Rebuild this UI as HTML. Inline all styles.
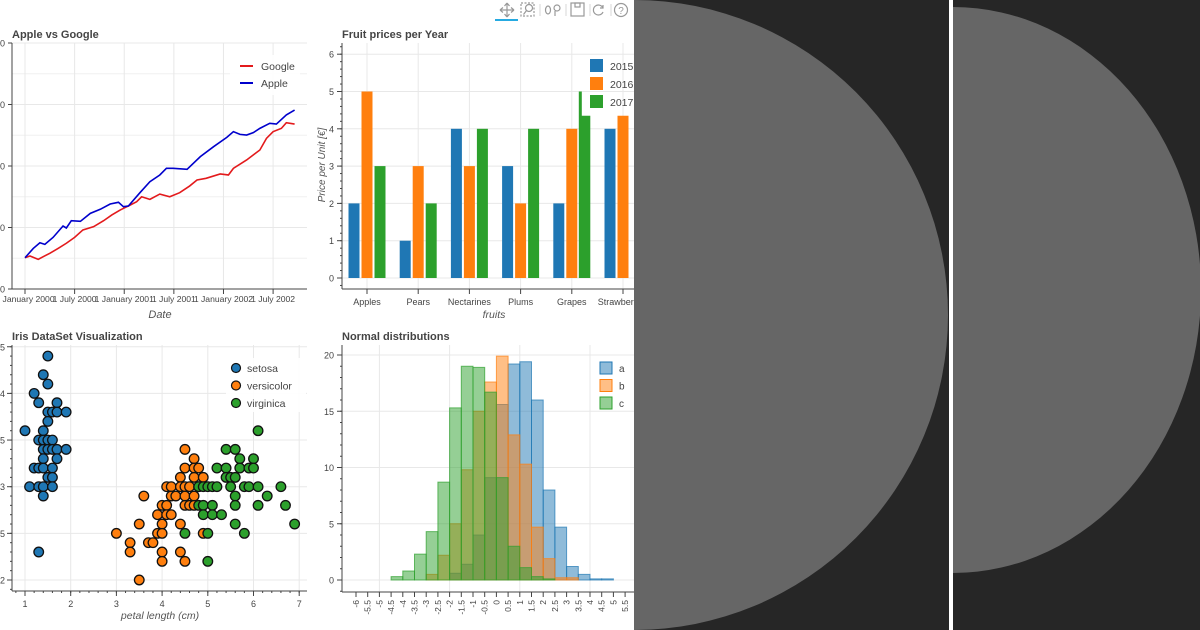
<!DOCTYPE html>
<html><head><meta charset="utf-8">
<style>
html,body{margin:0;padding:0;width:1200px;height:630px;overflow:hidden;background:#fff;font-family:"Liberation Sans",sans-serif;}
#root{position:absolute;left:0;top:0;width:1200px;height:630px;}
</style></head>
<body>
<svg id="root" width="1200" height="630" viewBox="0 0 1200 630" xmlns="http://www.w3.org/2000/svg">
<rect x="0" y="0" width="634" height="630" fill="#fff"/>
<g id="toolbar" stroke="#999" fill="none" stroke-width="1.2">
  <g><path d="M500 10h14M507 3v14M500 10l3-2.5M500 10l3 2.5M514 10l-3-2.5M514 10l-3 2.5M507 3l-2.5 3M507 3l2.5 3M507 17l-2.5-3M507 17l2.5-3"/></g>
  <line x1="495" y1="20" x2="518" y2="20" stroke="#26aae1" stroke-width="2"/>
  <g><rect x="521" y="3" width="13" height="13" stroke-dasharray="2 1.5"/><circle cx="529" cy="8" r="3.5"/><path d="M526.5 10.5l-3 4"/></g>
  <g><ellipse cx="548" cy="10" rx="2.5" ry="4"/><circle cx="557" cy="8" r="3"/><path d="M555 11v5"/></g>
  <g><rect x="571" y="3" width="13" height="13"/><rect x="575" y="3" width="5" height="4"/></g>
  <g><path d="M603 8a5 5 0 1 0 0 4M603 5v3h-3"/></g>
  <g><circle cx="621" cy="10" r="6.5"/><text x="621" y="14" font-size="10" text-anchor="middle" fill="#999" stroke="none">?</text></g>
  <g stroke="#ddd"><line x1="540" y1="4" x2="540" y2="16"/><line x1="566" y1="4" x2="566" y2="16"/><line x1="590" y1="4" x2="590" y2="16"/><line x1="611" y1="4" x2="611" y2="16"/></g>
</g>
<g id="p1"></g>
<g id="p2"></g>
<g id="p3"></g>
<g id="p4"></g>
<g>
  <rect x="634" y="0" width="315" height="630" fill="#262626"/>
  <path d="M634 0 A314 315 0 0 1 634 630 Z" fill="#666"/>
</g>
<rect x="949" y="0" width="4" height="630" fill="#fff"/>
<g>
  <rect x="953" y="0" width="247" height="630" fill="#262626"/>
  <path d="M953 7 A248 283 0 0 1 953 573 Z" fill="#666"/>
</g>
</svg>
<script>
// ---------- Chart 1 data ----------
const appleMonths=[0,1.0,1.8,2.4,3.4,4.6,5.0,5.6,6.7,7.9,9.1,10.3,11.3,11.9,12.5,13.9,15.1,16.3,17.1,17.9,19.6,21.2,22.8,24.4,25.2,26.0,26.8,27.6,28.4,29.6,30.4,31.6,32.6];
const appleValues=[25.4,33,37.6,36.3,42,51.2,49.6,55.5,55,61.5,64.8,69.1,70.5,66.9,67.5,78.3,87.2,92.7,98.1,98.1,97.3,107.6,115.7,123.3,127.9,125.7,125.2,127.1,130.6,134.7,134.1,141.5,145.5];
const googleMonths=[0,0.6,1.6,2.2,3.0,4.0,5.0,6.0,7.0,8.3,9.5,10.5,11.5,12.5,13.5,14.1,15.1,16.3,17.5,18.7,19.9,20.8,21.9,23.6,24.6,25.2,26.8,28.4,29.2,30.0,31.0,31.6,32.6];
const googleValues=[25.4,26.8,24.1,26.3,29,33,37.2,42,48,50.7,55.5,60.2,64.2,67.5,71,75,72.9,77.2,75,78.3,83.7,88.6,90,93.5,92.7,98.1,104.9,113,122.5,127.9,130.6,135.2,134.1];
const dateTicks=[0,6,12,18,24,30];
const dateLabels=["1 January 2000","1 July 2000","1 January 2001","1 July 2001","1 January 2002","1 July 2002"];
const priceTicks=[0,50,100,150,200];
// ---------- Chart 2 data ----------
const fruits=["Apples","Pears","Nectarines","Plums","Grapes","Strawberries"];
const years=["2015","2016","2017"];
const prices2015=[2,1,4,3,2,4];
const prices2016=[5,3,3,2,4,4.35];
const prices2017=[3,2,4,4,4.35,0];
const grapesSliver=[5];
const unitTicks=[0,1,2,3,4,5,6];
// ---------- Chart 3 data ----------
const setosaX=[1.5,1.4,1.5,1.2,1.3,1.7,1.5,1.6,1.7,1.9,1.5,1.0,1.4,1.3,1.4,1.5,1.6,1.4,1.5,1.6,1.7,1.9,1.4,1.7,1.2,1.3,1.4,1.6,1.5,1.6,1.1,1.3,1.4,1.6,1.4,1.3];
const setosaY=[4.4,4.2,4.1,4.0,3.9,3.9,3.8,3.8,3.8,3.8,3.7,3.6,3.6,3.5,3.5,3.5,3.5,3.4,3.4,3.4,3.4,3.4,3.3,3.3,3.2,3.2,3.2,3.2,3.1,3.1,3.0,3.0,3.0,3.0,2.9,2.3];
const versiX=[4.5,4.7,4.5,4.7,4.8,4.4,4.7,4.9,4.1,4.2,4.4,4.5,4.6,4.8,3.6,4.2,4.3,4.5,4.7,4.0,4.1,4.5,4.6,4.7,3.9,4.1,4.2,3.5,4.0,4.4,3.0,3.9,4.0,4.9,3.3,3.7,3.8,3.3,4.0,4.4,4.0,4.5,3.5];
const versiY=[3.4,3.3,3.2,3.2,3.2,3.1,3.1,3.1,3.0,3.0,3.0,3.0,3.0,3.0,2.9,2.9,2.9,2.9,2.9,2.8,2.8,2.8,2.8,2.8,2.7,2.7,2.7,2.6,2.6,2.6,2.5,2.5,2.5,2.5,2.4,2.4,2.4,2.3,2.3,2.3,2.2,2.2,2.0];
const virgX=[6.1,5.4,5.6,5.7,6.0,5.2,5.4,5.7,5.9,6.0,5.4,5.5,5.6,4.8,4.9,5.0,5.1,5.2,5.5,5.8,5.9,6.1,6.6,5.6,6.3,4.8,4.9,5.1,5.6,6.1,6.7,4.9,5.1,5.3,5.6,6.9,4.5,5.0,5.8,5.0];
const virgY=[3.6,3.4,3.4,3.3,3.3,3.2,3.2,3.2,3.2,3.2,3.1,3.1,3.1,3.0,3.0,3.0,3.0,3.0,3.0,3.0,3.0,3.0,3.0,2.9,2.9,2.8,2.8,2.8,2.8,2.8,2.8,2.7,2.7,2.7,2.6,2.6,2.5,2.5,2.5,2.2];
const petalTicks=[1,2,3,4,5,6,7];
const sepalTicks=[2,2.5,3,3.5,4,4.5];
// ---------- Chart 4 data ----------
const binEdges=[-6,-5.5,-5,-4.5,-4,-3.5,-3,-2.5,-2,-1.5,-1,-0.5,0,0.5,1,1.5,2,2.5,3,3.5,4,4.5,5,5.5];
const countsA=[0,0,0,0,0,0,0,0,0.6,1.4,4.0,9.1,15.6,19.2,19.4,16.0,8.0,4.7,1.2,0.5,0.1,0.1,0,0];
const countsB=[0,0,0,0,0,0,0.5,2.2,5.0,9.8,15.0,17.6,19.9,12.9,10.3,4.7,1.9,0.2,0.2,0,0,0,0,0];
const countsC=[0,0,0,0.3,0.8,2.3,4.3,8.7,15.3,19.0,18.9,16.7,9.1,3.0,1.1,0.3,0.1,0,0,0,0,0,0,0];
const histTicksY=[0,5,10,15,20];
const histTickLabelsX=["-6","-5.5","-5","-4.5","-4","-3.5","-3","-2.5","-2","-1.5","-1","-0.5","0","0.5","1","1.5","2","2.5","3","3.5","4","4.5","5","5.5"];

const NS="http://www.w3.org/2000/svg";
function mk(parent,tag,attrs,text){const e=document.createElementNS(NS,tag);for(const k in attrs)e.setAttribute(k,attrs[k]);if(text!==undefined)e.textContent=text;parent.appendChild(e);return e;}
const TXT="#444";

// ===== Chart 1 =====
(function(){
const g=document.getElementById('p1');
const L=12,R=307,T=43,B=289;
const xs=m=>25+m*8.27, ys=v=>289-v*1.23;
const title=mk(g,'text',{x:12,y:38,'font-size':11,'font-weight':'bold',fill:TXT},'Apple vs Google');


for(let v=25;v<200;v+=50){mk(g,'line',{x1:L,x2:R,y1:ys(v),y2:ys(v),stroke:'#f0f0f0'});}
priceTicks.forEach(v=>{mk(g,'line',{x1:L,x2:R,y1:ys(v),y2:ys(v),stroke:'#e8e8e8'});
 const t=mk(g,'text',{x:5,y:ys(v)+3.5,'font-size':9,fill:TXT,'text-anchor':'end'},String(v));
 
 mk(g,'line',{x1:L-4,x2:L,y1:ys(v),y2:ys(v),stroke:'#444'});});
dateTicks.forEach((m,i)=>{mk(g,'line',{x1:xs(m),x2:xs(m),y1:T,y2:B,stroke:'#e8e8e8'});
 mk(g,'line',{x1:xs(m),x2:xs(m),y1:B,y2:B+5,stroke:'#444'});
 const t=mk(g,'text',{x:xs(m),y:B+13,'font-size':8.6,fill:TXT,'text-anchor':'middle'},dateLabels[i]);
 });
mk(g,'line',{x1:L,x2:L,y1:T,y2:B,stroke:'#444'});
mk(g,'line',{x1:L,x2:R,y1:B,y2:B,stroke:'#444'});
const xl=mk(g,'text',{x:160,y:318,'font-size':11,'font-style':'italic',fill:'#555','text-anchor':'middle'},'Date');

const gp=mk(g,'polyline',{points:googleMonths.map((m,i)=>xs(m)+','+ys(googleValues[i])).join(' '),fill:'none',stroke:'#e31a1c','stroke-width':1.6});

const ap=mk(g,'polyline',{points:appleMonths.map((m,i)=>xs(m)+','+ys(appleValues[i])).join(' '),fill:'none',stroke:'#0000cc','stroke-width':1.6});

const lg=mk(g,'g',{});

mk(lg,'rect',{x:230,y:55,width:70,height:40,fill:'#fff','fill-opacity':0.9});
[['Google','#e31a1c',66],['Apple','#0000cc',83]].forEach(([n,c,y])=>{
 const e=mk(lg,'g',{});
 mk(e,'line',{x1:240,x2:253,y1:y,y2:y,stroke:c,'stroke-width':2});
 mk(e,'text',{x:261,y:y+4,'font-size':10.5,fill:TXT},n);});
})();

// ===== Chart 2 =====
(function(){
const g=document.getElementById('p2');
const L=342,R=634,T=43,B=289;
const ys=v=>278-v*37.3, xc=i=>367+i*51.2;
const title=mk(g,'text',{x:342,y:38,'font-size':11,'font-weight':'bold',fill:TXT},'Fruit prices per Year');

unitTicks.forEach(v=>{mk(g,'line',{x1:L,x2:R,y1:ys(v),y2:ys(v),stroke:'#e8e8e8'});
 mk(g,'line',{x1:L-5,x2:L,y1:ys(v),y2:ys(v),stroke:'#444'});
 const t=mk(g,'text',{x:L-8,y:ys(v)+3.5,'font-size':9,fill:TXT,'text-anchor':'end'},String(v));
 });
for(let v=-0.2;v<6.3;v+=0.2){mk(g,'line',{x1:L-2,x2:L,y1:ys(v),y2:ys(v),stroke:'#444'});}
fruits.forEach((f,i)=>{mk(g,'line',{x1:xc(i),x2:xc(i),y1:T,y2:B,stroke:'#e8e8e8'});
 mk(g,'line',{x1:xc(i),x2:xc(i),y1:B,y2:B+5,stroke:'#444'});
 const t=mk(g,'text',{x:xc(i),y:B+16,'font-size':9,fill:TXT,'text-anchor':'middle'},f);
 });
const series=[prices2015,prices2016,prices2017], cols=['#1f77b4','#ff7f0e','#2ca02c'], offs=[-13,0,13];
const lg=mk(g,'g',{});
years.forEach((y,k)=>{const e=mk(lg,'g',{});
 mk(e,'rect',{x:590,y:59+k*18,width:13,height:13,fill:cols[k]});
 mk(e,'text',{x:610,y:70+k*18,'font-size':10.5,fill:TXT},y);});
const sl=mk(g,'rect',{x:xc(4)+13-6,y:ys(grapesSliver[0]),width:3,height:ys(0)-ys(grapesSliver[0]),fill:cols[2]});

series.forEach((s,k)=>s.forEach((v,i)=>{if(v<=0)return;
 const r=mk(g,'rect',{x:xc(i)+offs[k]-5.5,y:ys(v),width:11,height:ys(0)-ys(v),fill:cols[k]});
 }));
mk(g,'line',{x1:L,x2:L,y1:T,y2:B,stroke:'#444'});
mk(g,'line',{x1:L,x2:R,y1:B,y2:B,stroke:'#444'});
const yl=mk(g,'text',{x:0,y:0,'font-size':10,'font-style':'italic',fill:'#555','text-anchor':'middle',transform:'translate(325,165) rotate(-90)'},'Price per Unit [€]');

const xl=mk(g,'text',{x:494,y:318,'font-size':10.5,'font-style':'italic',fill:'#555','text-anchor':'middle'},'fruits');

})();

// ===== Chart 3 =====
(function(){
const g=document.getElementById('p3');
const L=12,R=307,T=345,B=591;
const xs=v=>25+(v-1)*45.7, ys=v=>580-(v-2)*93.3;
const title=mk(g,'text',{x:12,y:340,'font-size':11,'font-weight':'bold',fill:TXT},'Iris DataSet Visualization');

sepalTicks.forEach(v=>{mk(g,'line',{x1:L,x2:R,y1:ys(v),y2:ys(v),stroke:'#e8e8e8'});
 mk(g,'line',{x1:L-5,x2:L,y1:ys(v),y2:ys(v),stroke:'#444'});
 const t=mk(g,'text',{x:5,y:ys(v)+3.5,'font-size':9,fill:TXT,'text-anchor':'end'},String(v));
 });
for(let v=1.9;v<4.6;v+=0.1){mk(g,'line',{x1:L-2,x2:L,y1:ys(v),y2:ys(v),stroke:'#444'});}
petalTicks.forEach(v=>{mk(g,'line',{x1:xs(v),x2:xs(v),y1:T,y2:B,stroke:'#e8e8e8'});
 mk(g,'line',{x1:xs(v),x2:xs(v),y1:B,y2:B+5,stroke:'#444'});
 const t=mk(g,'text',{x:xs(v),y:B+16,'font-size':9,fill:TXT,'text-anchor':'middle'},String(v));
 });
for(let v=0.8;v<7.2;v+=0.2){mk(g,'line',{x1:xs(v),x2:xs(v),y1:B,y2:B+2,stroke:'#444'});}
mk(g,'line',{x1:L,x2:L,y1:T,y2:B,stroke:'#444'});
mk(g,'line',{x1:L,x2:R,y1:B,y2:B,stroke:'#444'});
const xl=mk(g,'text',{x:160,y:619,'font-size':10.5,'font-style':'italic',fill:'#555','text-anchor':'middle'},'petal length (cm)');

const sets=[[setosaX,setosaY,'#1f77b4','setosa'],[versiX,versiY,'#ff7f0e','versicolor'],[virgX,virgY,'#2ca02c','virginica']];
sets.forEach(([X,Y,c,n])=>X.forEach((x,i)=>{
 const p=mk(g,'circle',{cx:xs(x),cy:ys(Y[i]),r:4.8,fill:c,stroke:'#111','stroke-width':1.3});
 }));
const lg=mk(g,'g',{});
mk(lg,'rect',{x:226,y:358,width:80,height:54,fill:'#fff','fill-opacity':0.9});
sets.forEach(([X,Y,c,n],k)=>{const e=mk(lg,'g',{});
 mk(e,'circle',{cx:236,cy:368+k*17.5,r:4.5,fill:c,stroke:'#111','stroke-width':1.2});
 mk(e,'text',{x:247,y:372+k*17.5,'font-size':10.5,fill:TXT},n);});
})();

// ===== Chart 4 =====
(function(){
const g=document.getElementById('p4');
const L=342,R=634,T=345,B=592;
const xs=v=>356+(v+6)*23.4, ys=v=>580-v*11.25;
const title=mk(g,'text',{x:342,y:340,'font-size':11,'font-weight':'bold',fill:TXT},'Normal distributions');

histTicksY.forEach(v=>{mk(g,'line',{x1:L,x2:R,y1:ys(v),y2:ys(v),stroke:'#e8e8e8'});
 mk(g,'line',{x1:L-5,x2:L,y1:ys(v),y2:ys(v),stroke:'#444'});
 const t=mk(g,'text',{x:L-8,y:ys(v)+3.5,'font-size':9,fill:TXT,'text-anchor':'end'},String(v));
 });
for(let v=-1;v<21;v+=1){mk(g,'line',{x1:L-2,x2:L,y1:ys(v),y2:ys(v),stroke:'#444'});}
[-5,-2,1,4].forEach(v=>mk(g,'line',{x1:xs(v),x2:xs(v),y1:T,y2:B,stroke:'#e8e8e8'}));
binEdges.forEach((v,i)=>{mk(g,'line',{x1:xs(v),x2:xs(v),y1:B,y2:B+5,stroke:'#444'});
 const t=mk(g,'text',{x:0,y:0,'font-size':8.5,fill:TXT,'text-anchor':'end',transform:'translate('+(xs(v)+3)+','+(B+8)+') rotate(-90)'},histTickLabelsX[i]);
 });
const series=[[countsA,'#1f77b4','a'],[countsB,'#ff7f0e','b'],[countsC,'#2ca02c','c']];
series.forEach(([C,c,n])=>C.forEach((v,i)=>{
 const r=mk(g,'rect',{x:xs(binEdges[i]),y:ys(v),width:11.7,height:ys(0)-ys(v),fill:c,'fill-opacity':0.5,stroke:c,'stroke-opacity':0.7,'stroke-width':1});
 }));
mk(g,'line',{x1:L,x2:L,y1:T,y2:B,stroke:'#444'});
mk(g,'line',{x1:L,x2:R,y1:B,y2:B,stroke:'#444'});
const lg=mk(g,'g',{});
series.forEach(([C,c,n],k)=>{const e=mk(lg,'g',{});
 mk(e,'rect',{x:600,y:362+k*17.5,width:12,height:12,fill:c,'fill-opacity':0.5,stroke:c});
 mk(e,'text',{x:619,y:372+k*17.5,'font-size':10,fill:TXT},n);});
})();
</script>
</body></html>
